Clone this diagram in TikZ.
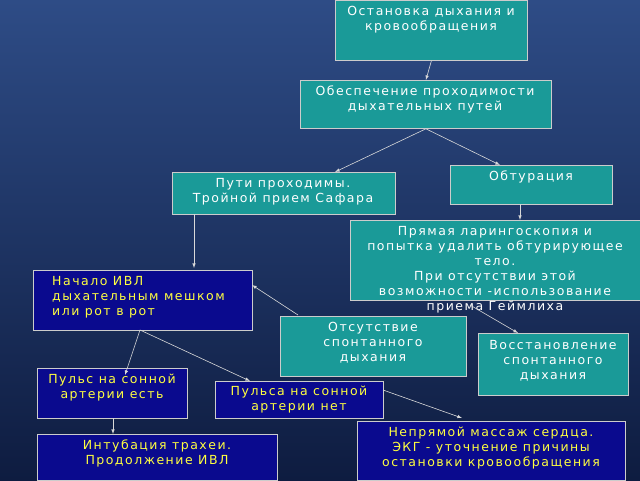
\documentclass[tikz,border=0pt]{standalone}
\usepackage{fontspec}
\setmainfont{DejaVu Sans}[LetterSpace=12]
\definecolor{bgtop}{HTML}{2E4C86}
\definecolor{bgbot}{HTML}{0E1C40}
\definecolor{teal}{HTML}{1A9A98}
\definecolor{navy}{HTML}{0A0A8E}
\definecolor{yel}{HTML}{FFFF40}
\begin{document}
\begin{tikzpicture}[x=1pt,y=-1pt,
  box/.style={draw=gray!40,line width=0.8pt,inner sep=0pt,anchor=north west},
  tb/.style={box,fill=teal},
  nb/.style={box,fill=navy},
  wt/.style={text=white,font=\fontsize{12.5}{15}\selectfont,align=center,anchor=north,inner sep=0pt},
  yt/.style={wt,text=yel},
  ar/.style={draw=gray!30,line width=0.6pt,-latex}]
\shade[top color=bgtop,bottom color=bgbot] (0,0) rectangle (640,480);
\useasboundingbox (0,0) rectangle (640,480);
\node[tb,minimum width=192,minimum height=60] (a) at (335,0) {};
\node[wt] at (431,6) {Остановка дыхания и\\кровообращения};
\node[tb,minimum width=251,minimum height=48] (b) at (300,80) {};
\node[wt] at (425,86) {Обеспечение проходимости\\дыхательных путей};
\node[tb,minimum width=223,minimum height=42] (c) at (172,172) {};
\node[wt] at (283,178) {Пути проходимы.\\Тройной прием Сафара};
\node[tb,minimum width=162,minimum height=39] (d) at (450,165) {};
\node[wt] at (531,171) {Обтурация};
\node[tb,minimum width=290,minimum height=80] (e) at (350,220) {};
\node[wt] at (495,226) {Прямая ларингоскопия и\\попытка удалить обтурирующее\\тело.\\При отсутствии этой\\возможности -использование\\приема Геймлиха};
\node[nb,minimum width=219,minimum height=60] (f) at (33,270) {};
\node[yt,align=left,anchor=north west] at (52,276) {Начало ИВЛ\\дыхательным мешком\\или рот в рот};
\node[tb,minimum width=186,minimum height=60] (g) at (280,316) {};
\node[wt] at (373,322) {Отсутствие\\спонтанного\\дыхания};
\node[tb,minimum width=150,minimum height=62] (h) at (478,333) {};
\node[wt] at (553,340) {Восстановление\\спонтанного\\дыхания};
\node[nb,minimum width=150,minimum height=50] (i) at (37,368) {};
\node[yt] at (112,374) {Пульс на сонной\\артерии есть};
\node[nb,minimum width=168,minimum height=37] (j) at (215,381) {};
\node[yt] at (299,386) {Пульса на сонной\\артерии нет};
\node[nb,minimum width=268,minimum height=59] (k) at (357,421) {};
\node[yt] at (491,427) {Непрямой массаж сердца.\\ ЭКГ - уточнение причины\\остановки кровообращения};
\node[nb,minimum width=240,minimum height=46] (l) at (37,434) {};
\node[yt] at (157,440) {Интубация трахеи.\\Продолжение ИВЛ};
\coordinate (cin) at (335,172);
\draw[ar] (a.south) -- (b.north);
\draw[ar] (b.south) -- (cin);
\draw[ar] (b.south) -- (500,165);
\draw[ar] (194,214) -- (194,268);
\draw[ar] (520,204) -- (520,220);
\draw[ar] (470,305) -- (518,333);
\draw[ar] (298,315) -- (252,285);
\draw[ar] (140,330) -- (125,375);
\draw[ar] (140,330) -- (250,381);
\draw[ar] (113,418) -- (113,434);
\draw[ar] (383,390) -- (462,418);
\end{tikzpicture}
\end{document}
